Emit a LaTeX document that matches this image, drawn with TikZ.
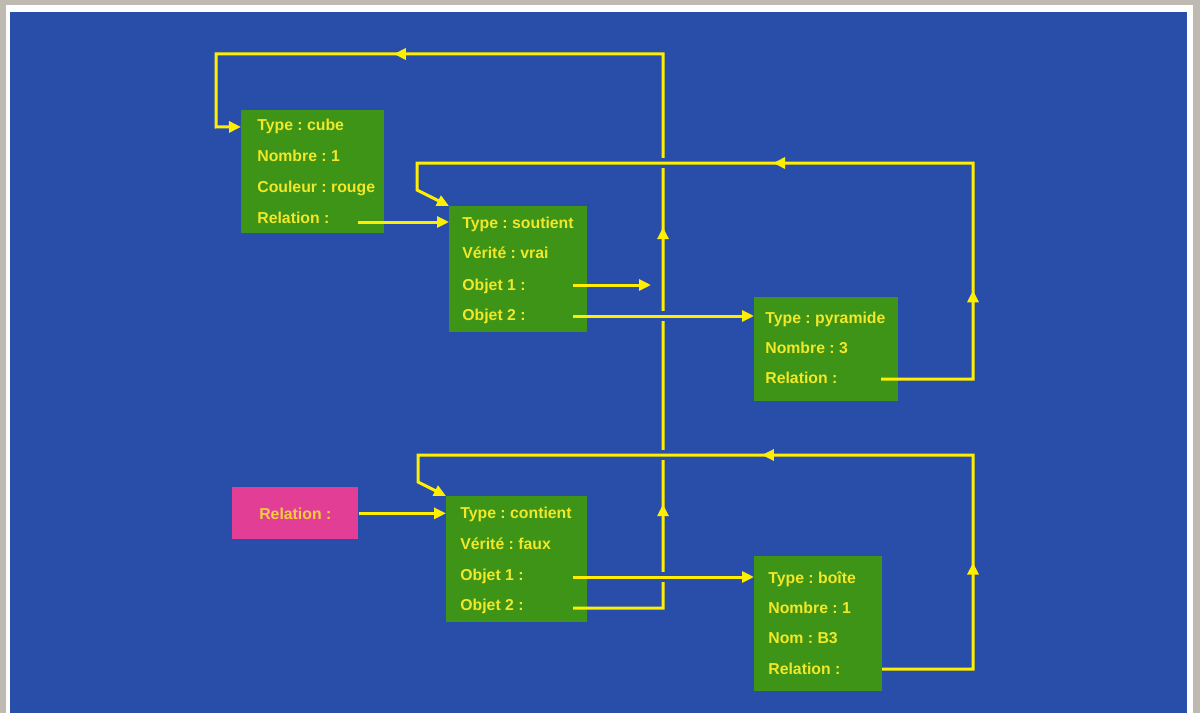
\documentclass[tikz,border=0pt]{standalone}
\usepackage{fontspec}
\setmainfont{Liberation Sans}
\usetikzlibrary{arrows.meta,decorations.markings}

\definecolor{gris}{RGB}{190,186,178}
\definecolor{fond}{RGB}{40,78,170}
\definecolor{vert}{RGB}{62,148,22}
\definecolor{jaune}{RGB}{240,232,40}
\definecolor{trait}{RGB}{255,238,0}
\definecolor{rose}{RGB}{226,62,150}
\definecolor{orjaune}{RGB}{246,205,60}

\newcommand{\policechamp}{\fontsize{9}{11}\selectfont\bfseries\frenchspacing}

\tikzset{
  >={Triangle[length=0.24cm,width=0.22cm]},
  bloc/.style={fill=vert, anchor=north west, inner sep=0pt},
  champ/.style={anchor=base west, inner sep=0pt, text=jaune, font=\policechamp},
  lien/.style={color=trait, line width=0.06cm},
  pointe/.style={postaction={decorate,decoration={markings,mark=at position #1 with {\arrow{>}}}}}
}

\begin{document}
\begin{tikzpicture}[x=0.02cm,y=-0.02cm]
\fill[gris] (0,0) rectangle (1200,713);
\fill[white] (6,5) rectangle (1193,713);
\fill[fond] (10,12) rectangle (1187,713);

% les blocs
\node[bloc, minimum width=2.86cm, minimum height=2.46cm] (cube) at (241,110) {};
\node[bloc, minimum width=2.76cm, minimum height=2.52cm] (soutient) at (449,206) {};
\node[bloc, minimum width=2.88cm, minimum height=2.08cm] (pyramide) at (754,297) {};
\node[bloc, minimum width=2.82cm, minimum height=2.52cm] (contient) at (446,496) {};
\node[bloc, minimum width=2.56cm, minimum height=2.70cm] (boite) at (754,556) {};
\node[bloc, fill=rose, minimum width=2.52cm, minimum height=1.04cm, text=orjaune, font=\policechamp] (rel) at (232,487) {Relation :};

% les champs
\node[champ] (c1) at (257,131) {Type : cube};
\node[champ] (c2) at (257,161) {Nombre : 1};
\node[champ] (c3) at (257,192) {Couleur : rouge};
\node[champ] (c4) at (257,223) {Relation :};

\node[champ] (s1) at (462,228) {Type : soutient};
\node[champ] (s2) at (462,258) {Vérité : vrai};
\node[champ] (s3) at (462,290) {Objet 1 :};
\node[champ] (s4) at (462,320) {Objet 2 :};

\node[champ] (p1) at (765,323) {Type : pyramide};
\node[champ] (p2) at (765,353) {Nombre : 3};
\node[champ] (p3) at (765,383) {Relation :};

\node[champ] (k1) at (460,518) {Type : contient};
\node[champ] (k2) at (460,549) {Vérité : faux};
\node[champ] (k3) at (460,580) {Objet 1 :};
\node[champ] (k4) at (460,610) {Objet 2 :};

\node[champ] (b1) at (768,583) {Type : boîte};
\node[champ] (b2) at (768,613) {Nombre : 1};
\node[champ] (b3) at (768,643) {Nom : B3};
\node[champ] (b4) at (768,674) {Relation :};

% departs des liens
\coordinate (c4a) at (358,222);
\coordinate (s3a) at (573,285);
\coordinate (s3b) at (651,285);
\coordinate (s4a) at (573,316);
\coordinate (p3a) at (881,379);
\coordinate (k3a) at (573,577);
\coordinate (k4a) at (573,608);
\coordinate (b4a) at (882,669);

% la grande remontee vers le cube
\draw[lien, pointe=.163, pointe=.396, pointe=.768, ->] (k4a) -| (663,54) -| (216,127) -- (cube.west |- c1);
\foreach \y in {163,316,455,577}
  \fill[fond] (657,\y-5) rectangle (669,\y+5);

\draw[lien, ->] (c4a) -- (soutient.west |- c4a);
\draw[lien, ->] (s3a) -- (s3b);
\draw[lien, ->] (s4a) -- (pyramide.west |- s4a);
\draw[lien, pointe=.195, pointe=.548, ->] (p3a) -| (973,163) -| (417,190) -- (soutient.north west);
\draw[lien, ->] (rel.east) -- (contient.west |- rel.east);
\draw[lien, ->] (k3a) -- (boite.west |- k3a);
\draw[lien, pointe=.215, pointe=.562, ->] (b4a) -| (973,455) -| (418,482) -- (contient.north west);
\end{tikzpicture}
\end{document}
